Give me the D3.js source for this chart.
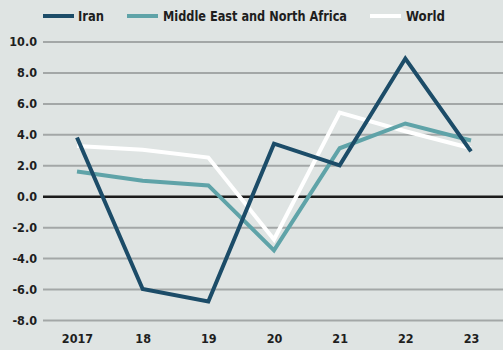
<!DOCTYPE html>
<html>
<head>
<meta charset="utf-8">
<script src="https://cdn.jsdelivr.net/npm/d3@7"></script>
<style>
  html, body { margin: 0; padding: 0; background: #dfe4e3; }
  svg { display: block; }
  text { font-family: "DejaVu Sans Condensed", "Liberation Sans Narrow", "Liberation Sans", sans-serif; fill: #1e1e1e; }
</style>
</head>
<body>
<svg id="chart" width="503" height="350"></svg>
<script>
// Real GDP growth, annual %
const years = ["2017", "18", "19", "20", "21", "22", "23"];
const iran = [3.8, -6.0, -6.8, 3.4, 2.0, 8.9, 2.9];
const mena = [1.6, 1.0, 0.7, -3.5, 3.1, 4.7, 3.6];
const world = [3.25, 3.0, 2.5, -2.8, 5.4, 4.2, 3.1];
const yTicks = [10, 8, 6, 4, 2, 0, -2, -4, -6, -8];

const seriesNames = ["Iran", "Middle East and North Africa", "World"];
const seriesColors = ["#1c4c68", "#5fa3a8", "#ffffff"];
const seriesValues = [iran, mena, world];

const svg = d3.select("#chart");
const W = 503, H = 350;

svg.append("rect").attr("width", W).attr("height", H).attr("fill", "#dfe4e3");

const x = d3.scalePoint().domain(years).range([77, 471]);
const y = d3.scaleLinear().domain([-8, 10]).range([320, 41.5]);

// one decimal, plain hyphen for negatives
const fmt = d => d.toFixed(1);

// horizontal grid lines with value labels
const yAxis = d3.axisLeft(y)
  .tickValues(yTicks)
  .tickSize(-(W - 43))
  .tickPadding(6)
  .tickFormat(fmt);

const gy = svg.append("g").attr("transform", "translate(43,0)").call(yAxis);
gy.select(".domain").remove();
gy.selectAll(".tick line")
  .attr("stroke", d => d === 0 ? "#1b1b1b" : "#a3a7a7")
  .attr("stroke-width", d => d === 0 ? 2.6 : 2);
gy.selectAll(".tick text")
  .attr("font-size", 12.5)
  .attr("font-weight", "bold")
  .attr("fill", "#1e1e1e")
  .attr("dy", "0.35em");

// year labels along the bottom
const xAxis = d3.axisBottom(x).tickSize(0).tickPadding(14);
const gx = svg.append("g").attr("transform", "translate(0,320)").call(xAxis);
gx.select(".domain").remove();
gx.selectAll(".tick text")
  .attr("font-size", 12.5)
  .attr("font-weight", "bold")
  .attr("fill", "#1e1e1e");

// series lines, drawn world first so Iran sits on top
const line = d3.line()
  .x((d, i) => x(years[i]))
  .y(d => y(d));

[2, 1, 0].forEach(k => {
  svg.append("path")
    .datum(seriesValues[k])
    .attr("fill", "none")
    .attr("stroke", seriesColors[k])
    .attr("stroke-width", 4)
    .attr("stroke-linejoin", "miter")
    .attr("d", line);
});

// legend
const legendItems = [
  { x0: 43, x1: 74, tx: 78, w: 26 },
  { x0: 127, x1: 158, tx: 163, w: 184 },
  { x0: 370, x1: 401, tx: 406, w: 39 }
];
const lg = svg.append("g");
legendItems.forEach((it, k) => {
  lg.append("line")
    .attr("x1", it.x0).attr("x2", it.x1)
    .attr("y1", 16).attr("y2", 16)
    .attr("stroke", seriesColors[k])
    .attr("stroke-width", 4);
  lg.append("text")
    .attr("x", it.tx).attr("y", 21)
    .attr("font-size", 14)
    .attr("font-weight", "bold")
    .attr("textLength", it.w)
    .attr("lengthAdjust", "spacingAndGlyphs")
    .text(seriesNames[k]);
});
</script>
</body>
</html>
